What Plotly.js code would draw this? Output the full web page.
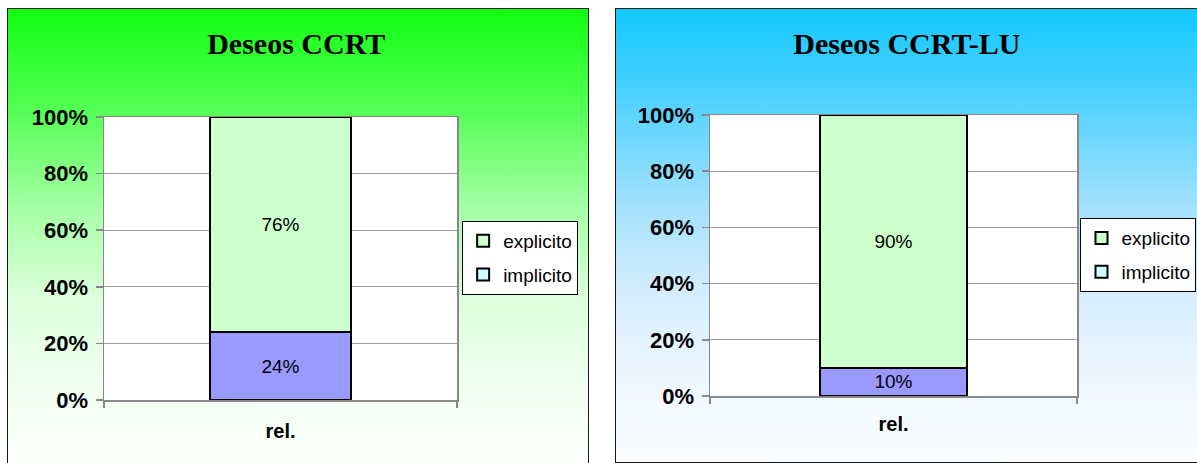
<!DOCTYPE html>
<html>
<head>
<meta charset="utf-8">
<script src="https://cdn.plot.ly/plotly-3.0.1.min.js"></script>
<style>
  html, body { margin: 0; padding: 0; width: 1197px; height: 463px; overflow: hidden; background: #ffffff; }
  .panel { position: absolute; box-sizing: border-box; border: 1px solid #1a1a1a; }
  #ccrt {
    left: 7px; top: 8px; width: 582px; height: 470px;
    background: linear-gradient(to bottom, #12ff12 0px, #4cff4c 90px, #a6ffa6 200px, #dcffdc 290px, #f5fff5 400px, #ffffff 470px);
  }
  #ccrtlu {
    left: 615px; top: 8px; width: 586px; height: 455px;
    background: linear-gradient(to bottom, #12c8ff 0px, #50d2ff 90px, #a6e2fd 200px, #d8eefe 290px, #f1f8ff 390px, #fafcff 455px);
  }
</style>
</head>
<body>
<div id="ccrt" class="panel"></div>
<div id="ccrtlu" class="panel"></div>
<script>
// Categories, series and tick values for both panels
const categories = ['rel.'];
const seriesNames = ['explicito', 'implicito'];
const titleCCRT = 'Deseos CCRT';
const titleCCRTLU = 'Deseos CCRT-LU';
const explicitoCCRT = [0.76];
const implicitoCCRT = [0.24];
const explicitoCCRTLU = [0.90];
const implicitoCCRTLU = [0.10];
const yTickValues = [0, 0.2, 0.4, 0.6, 0.8, 1.0];

const barColors = { explicito: '#ccffcc', implicito: '#9999ff' };
const legendColors = { explicito: '#ccffcc', implicito: '#ccffff' };
const SANS = 'Liberation Sans, Arial, sans-serif';
const SERIF = 'Liberation Serif, Times New Roman, serif';

function stackedPanel(divId, title, explicito, implicito, box) {
  const labelFont = { family: SANS, size: 19, color: '#000000' };
  const outline = { color: '#000000', width: 1.5 };
  const dataBar = (name, values) => ({
    type: 'bar', name: name, x: categories, y: values,
    width: 0.4, marker: { color: barColors[name], line: outline }, showlegend: false,
    texttemplate: '%{y:.0%}', textposition: 'inside', insidetextanchor: 'middle',
    textangle: 0, constraintext: 'none', textfont: labelFont, hoverinfo: 'skip'
  });
  // legend keys carry no values, so they add nothing to the stack
  const legendKey = (name, group) => ({
    type: 'bar', name: name, x: categories, y: categories.map(() => null),
    width: 0.4, showlegend: true, legendgroup: group, hoverinfo: 'skip',
    marker: { color: legendColors[name], line: { color: '#000000', width: 2 } }
  });
  const traces = [
    dataBar('implicito', implicito),
    dataBar('explicito', explicito),
    legendKey(seriesNames[0], 'a'),
    legendKey(seriesNames[1], 'b')
  ];
  const layout = {
    width: box.w, height: box.h,
    margin: { l: box.l, r: box.r, t: box.t, b: box.b, pad: 0 },
    paper_bgcolor: 'rgba(0,0,0,0)',
    plot_bgcolor: '#ffffff',
    barmode: 'stack',
    title: {
      text: '<b>' + title + '</b>',
      font: { family: SERIF, size: 30, color: '#000000' },
      xref: 'container', yref: 'container', x: box.tx, y: box.ty,
      xanchor: 'center', yanchor: 'middle'
    },
    xaxis: {
      type: 'category', range: [-0.5, 0.5], fixedrange: true,
      showline: true, mirror: true, linecolor: '#888888', linewidth: 1.5,
      ticks: 'outside', tickson: 'boundaries', ticklen: 6, tickcolor: '#888888', tickwidth: 1.5,
      tickfont: { family: SANS, size: 20, color: '#000000', weight: 'bold' },
      ticklabelstandoff: box.xstand,
      showgrid: false
    },
    yaxis: {
      range: [0, 1], fixedrange: true,
      tickvals: yTickValues, tickformat: '.0%',
      showline: true, mirror: true, linecolor: '#888888', linewidth: 1.5,
      ticks: 'outside', ticklen: 7, tickcolor: '#888888', tickwidth: 1.5,
      tickfont: { family: SANS, size: 22, color: '#000000', weight: 'bold' },
      ticklabelstandoff: 3,
      showgrid: true, gridcolor: '#a0a0a0', gridwidth: 1,
      zeroline: false
    },
    showlegend: true,
    legend: {
      xref: 'container', yref: 'container', x: box.lx, y: box.ly,
      xanchor: 'right', yanchor: 'middle',
      bgcolor: '#ffffff', bordercolor: '#000000', borderwidth: 1,
      font: { family: SANS, size: 19, color: '#000000' },
      traceorder: 'grouped', tracegroupgap: 6,
      itemclick: false, itemdoubleclick: false
    }
  };
  Plotly.newPlot(divId, traces, layout, { staticPlot: true, displayModeBar: false });
}

stackedPanel('ccrt', titleCCRT, explicitoCCRT, implicitoCCRT, {
  w: 580, h: 468, l: 95.5, r: 131, t: 107.5, b: 76.5,
  tx: 0.497, ty: 0.927, lx: 0.983, ly: 0.468, xstand: 12
});
stackedPanel('ccrtlu', titleCCRTLU, explicitoCCRTLU, implicitoCCRTLU, {
  w: 584, h: 453, l: 94, r: 123.3, t: 106, b: 65.5,
  tx: 0.498, ty: 0.923, lx: 0.994, ly: 0.4565, xstand: 9
});
</script>
</body>
</html>
